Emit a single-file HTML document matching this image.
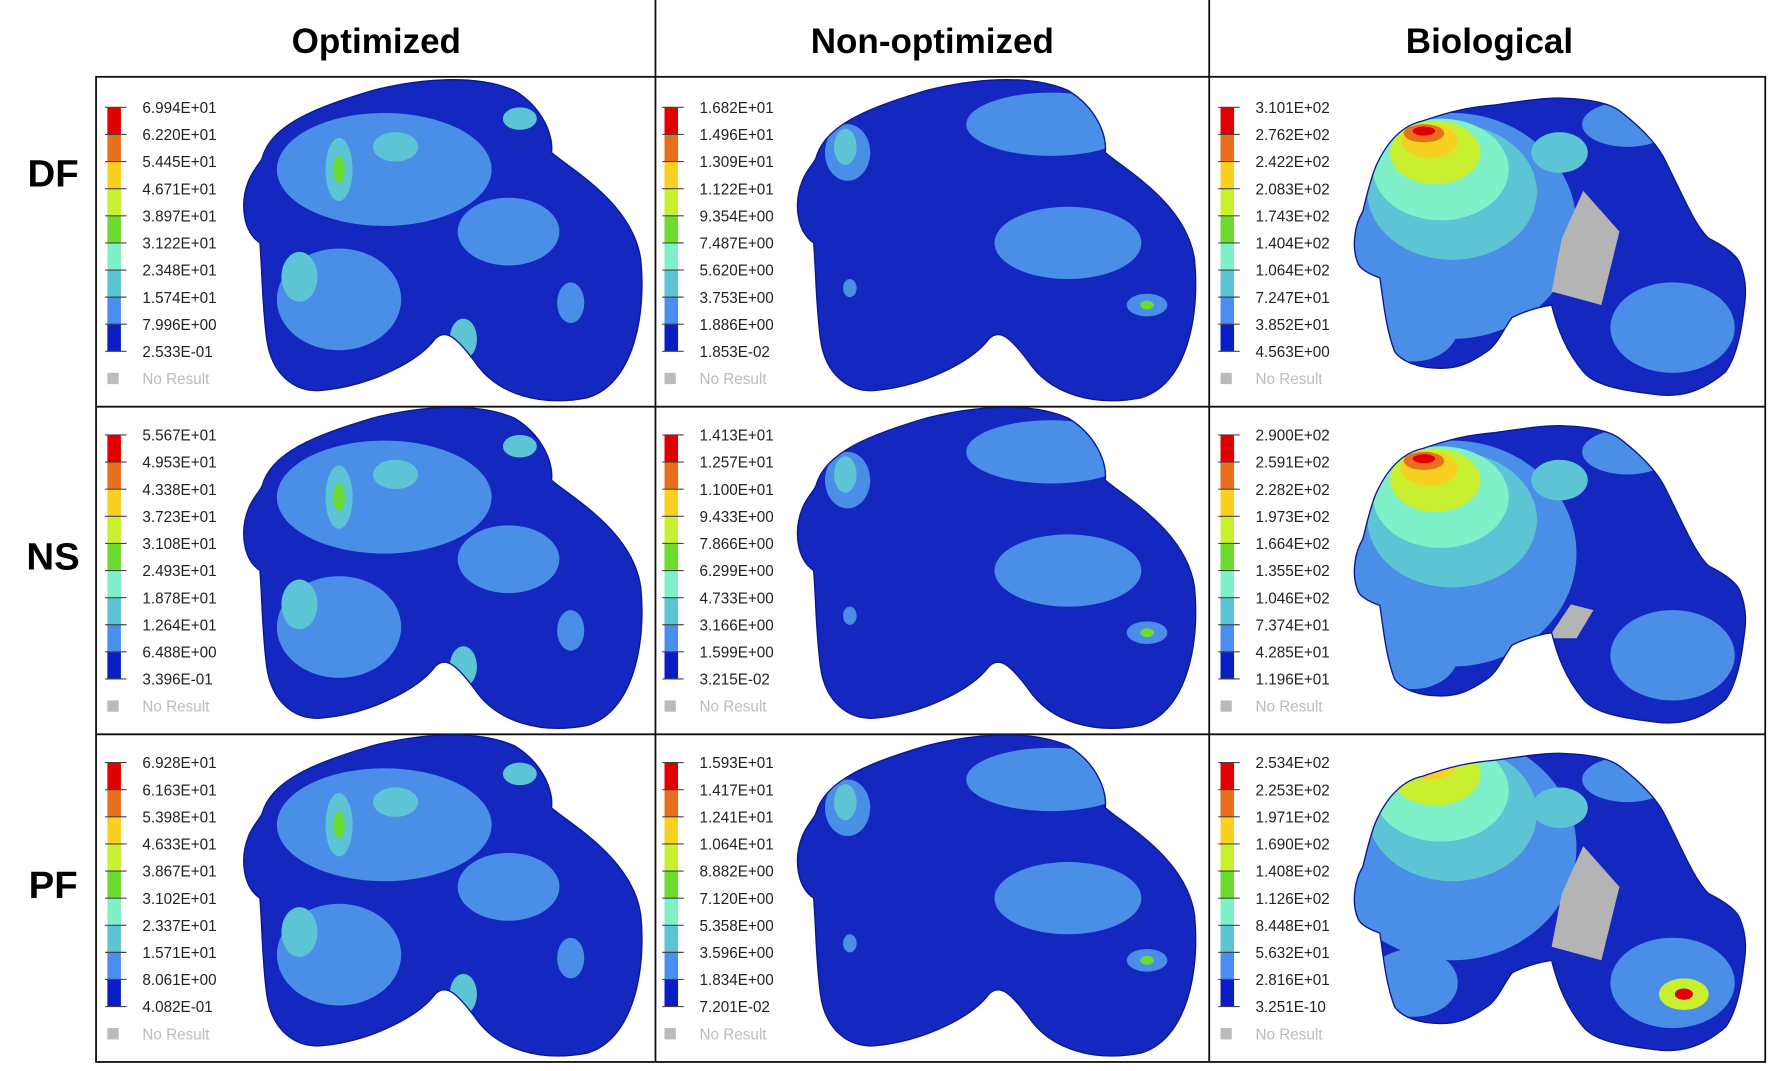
<!DOCTYPE html>
<html><head><meta charset="utf-8"><style>
html,body{margin:0;padding:0;background:#fff;}
svg{display:block;font-family:"Liberation Sans","DejaVu Sans",sans-serif;}
</style></head><body>
<svg id="fig" width="1772" height="1071" viewBox="0 0 1568 948" preserveAspectRatio="none" xmlns="http://www.w3.org/2000/svg">
<defs>
<path id="boneA" d="M232,140 C240,110 280,95 330,80 C370,70 420,65 455,80 C480,95 490,120 488,135 C505,150 560,180 567,230 C572,280 560,340 520,352 C480,360 440,350 420,320 C405,300 395,290 385,300 C370,320 330,340 290,345 C260,350 240,330 236,300 C232,270 232,240 230,215 C215,205 212,180 220,160 C224,150 230,145 232,140 Z"/>
<path id="boneB" d="M1218,146 C1230,120 1245,110 1259,107 C1285,98 1300,95 1322,93 C1350,89 1370,86 1385,87 C1410,88 1425,92 1433,98 C1455,115 1468,130 1474,143 C1490,175 1500,200 1512,211 C1530,220 1538,228 1540,234 C1546,250 1545,262 1543,275 C1540,300 1535,318 1527,329 C1505,348 1485,352 1464,349 C1430,345 1410,340 1401,329 C1385,310 1378,290 1373,270 C1360,272 1348,276 1338,281 C1330,292 1325,305 1316,311 C1300,322 1290,326 1275,326 C1255,326 1240,320 1234,311 C1226,290 1224,265 1221,246 C1210,242 1204,238 1202,234 C1198,225 1198,215 1199,208 C1200,198 1203,192 1206,187 C1210,170 1214,155 1218,146 Z"/>
<clipPath id="clipA"><use href="#boneA"/></clipPath>
<clipPath id="clipB"><use href="#boneB"/></clipPath>
</defs>
<rect width="1568" height="948" fill="#fff"/>
<g id="frame" stroke="#111" stroke-width="1.6" fill="none">
<rect x="85" y="68" width="1477" height="872"/>
<line x1="580" y1="0" x2="580" y2="940"/>
<line x1="1070" y1="0" x2="1070" y2="940"/>
<line x1="85" y1="360" x2="1562" y2="360"/>
<line x1="85" y1="650" x2="1562" y2="650"/>
</g>
<g font-weight="bold" font-size="31" text-anchor="middle" fill="#000" font-family="Liberation Sans, sans-serif">
<text x="333" y="47">Optimized</text>
<text x="825" y="47">Non-optimized</text>
<text x="1318" y="47">Biological</text>
<text x="47" y="165" font-size="34">DF</text>
<text x="47" y="504" font-size="34">NS</text>
<text x="47" y="795" font-size="34">PF</text>
</g>
<g id="bones"></g>
<g id="legends"></g>
</svg>
<script>
const bandColors = ["#e00000","#e8701c","#f8d020","#c8f030","#6cdc30","#80f0c8","#5cc4d4","#4a8ef0","#0a1ec4"];
const legendDF = [["6.994E+01","6.220E+01","5.445E+01","4.671E+01","3.897E+01","3.122E+01","2.348E+01","1.574E+01","7.996E+00","2.533E-01"],["1.682E+01","1.496E+01","1.309E+01","1.122E+01","9.354E+00","7.487E+00","5.620E+00","3.753E+00","1.886E+00","1.853E-02"],["3.101E+02","2.762E+02","2.422E+02","2.083E+02","1.743E+02","1.404E+02","1.064E+02","7.247E+01","3.852E+01","4.563E+00"]];
const legendNS = [["5.567E+01","4.953E+01","4.338E+01","3.723E+01","3.108E+01","2.493E+01","1.878E+01","1.264E+01","6.488E+00","3.396E-01"],["1.413E+01","1.257E+01","1.100E+01","9.433E+00","7.866E+00","6.299E+00","4.733E+00","3.166E+00","1.599E+00","3.215E-02"],["2.900E+02","2.591E+02","2.282E+02","1.973E+02","1.664E+02","1.355E+02","1.046E+02","7.374E+01","4.285E+01","1.196E+01"]];
const legendPF = [["6.928E+01","6.163E+01","5.398E+01","4.633E+01","3.867E+01","3.102E+01","2.337E+01","1.571E+01","8.061E+00","4.082E-01"],["1.593E+01","1.417E+01","1.241E+01","1.064E+01","8.882E+00","7.120E+00","5.358E+00","3.596E+00","1.834E+00","7.201E-02"],["2.534E+02","2.253E+02","1.971E+02","1.690E+02","1.408E+02","1.126E+02","8.448E+01","5.632E+01","2.816E+01","3.251E-10"]];
const rowsData = [legendDF, legendNS, legendPF];
const rowNames = ["df","ns","pf"];
const colNames = ["optimized","non-optimized","biological"];
const NS = "http://www.w3.org/2000/svg";
function mk(tag, attrs, parent){const e=document.createElementNS(NS,tag);for(const k in attrs)e.setAttribute(k,attrs[k]);parent.appendChild(e);return e;}
const colX = [0,493,985], rowY=[0,290,580];
const legends = document.getElementById('legends');
rowsData.forEach((row,r)=>row.forEach((vals,c)=>{
  const g = mk('g',{transform:`translate(${colX[c]},${rowY[r]})`},legends);
  
  
  const step=24, y0=95;
  for(let i=0;i<9;i++){
    const b = mk('rect',{x:95,y:y0+i*step,width:12,height:step,fill:bandColors[i]},g);
    
    
  }
  vals.forEach((v,i)=>{
    mk('line',{x1:93,x2:112,y1:y0+i*step,y2:y0+i*step,stroke:'#444','stroke-width':1},g);
    const t = mk('text',{x:126,y:y0+i*step+5,'font-size':13.5,fill:'#222'},g);
    t.textContent=v;
    
    
  });
  mk('rect',{x:95,y:y0+10*step-5,width:10,height:10,fill:'#bbb'},g);
  const nr = mk('text',{x:126,y:y0+10*step+5,'font-size':13.5,fill:'#bbb'},g);
  nr.textContent='No Result';
  
  
}));
// bone renderings (decorative contour patches)
const patchesA = [
 [["#4a8ee8",340,150,95,50],["#4a8ee8",300,265,55,45],["#4a8ee8",450,205,45,30],["#5cc4d4",300,150,12,28],["#5cc4d4",350,130,20,13],["#5cc4d4",265,245,16,22],["#6cdc30",300,150,5,12],["#5cc4d4",460,105,15,10],["#4a8ee8",505,268,12,18],["#5cc4d4",410,300,12,18]],
 [["#4a8ee8",440,110,75,28],["#4a8ee8",455,215,65,32],["#4a8ee8",260,135,20,25],["#5cc4d4",258,130,10,16],["#4a8ee8",525,270,18,10],["#6cdc30",525,270,6,4],["#4a8ee8",262,255,6,8]],
 [["#4a8ee8",300,200,110,100],["#5cc4d4",300,170,75,60],["#80f0c8",290,150,60,45],["#c8f030",285,135,40,28],["#f8d020",280,125,25,15],["#e8701c",275,118,18,8],["#e00000",275,116,10,4]]
];
const bones = document.getElementById('bones');
for(let r=0;r<3;r++){
 for(let c=0;c<3;c++){
  const g = mk('g',{transform:`translate(${c===2?0:colX[c]-3*c},${rowY[r]})`},bones);
  
  
  const useId = c===2?'#boneB':'#boneA';
  mk('use',{href:useId,fill:'#1428c0'},g);
  const pg = mk('g',{'clip-path':c===2?'url(#clipB)':'url(#clipA)'},g);
  if(c===2){
    const off=985;
    patchesA[2].forEach(p=>mk('ellipse',{cx:p[1]+off,cy:p[2]+(r===2?-30:0),rx:p[3],ry:p[4],fill:p[0]},pg));
    mk('ellipse',{cx:1480,cy:290,rx:55,ry:40,fill:'#4a8ee8'},pg);
    mk('ellipse',{cx:1250,cy:290,rx:40,ry:30,fill:'#4a8ee8'},pg);
    mk('ellipse',{cx:1440,cy:110,rx:40,ry:20,fill:'#4a8ee8'},pg);
    mk('ellipse',{cx:1380,cy:135,rx:25,ry:18,fill:'#5cc4d4'},pg);
    if(r!==1) mk('polygon',{points:'1401,169 1433,205 1417,270 1373,258 1382,211',fill:'#b4b4b4'},pg);
    else mk('polygon',{points:'1390,245 1410,250 1395,275 1370,275',fill:'#b4b4b4'},pg);
    if(r===2){mk('ellipse',{cx:1490,cy:300,rx:22,ry:14,fill:'#c8f030'},pg);mk('ellipse',{cx:1490,cy:300,rx:8,ry:5,fill:'#e00000'},pg);}
  } else {
    patchesA[c].forEach(p=>mk('ellipse',{cx:p[1],cy:p[2],rx:p[3],ry:p[4],fill:p[0]},pg));
  }
  mk('use',{href:useId,fill:'none',stroke:'#0a1890','stroke-width':1.2},g);
 }
}
</script>
</body></html>
